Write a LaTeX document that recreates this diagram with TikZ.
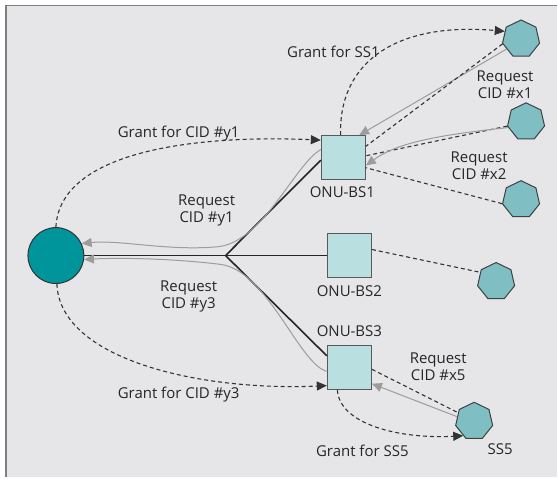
\documentclass[tikz,border=0pt]{standalone}
\usepackage{fontspec}
\setmainfont{Open Sans}
\usepackage{tikz}
\usetikzlibrary{shapes.geometric, arrows.meta}

\definecolor{panel}{HTML}{E6E6E8}
\definecolor{oltcol}{HTML}{00959B}
\definecolor{sscol}{HTML}{7FBFC4}
\definecolor{bscol}{HTML}{B9DFE0}
\definecolor{reqcol}{HTML}{9C9C9C}

\tikzstyle{olt} = [circle, draw=black!80, fill=oltcol, minimum size=28pt, inner sep=0pt, line width=0.5pt]
\tikzstyle{onu} = [rectangle, draw=black!65, fill=bscol, minimum size=22pt, inner sep=0pt, line width=0.6pt]
\tikzstyle{ss} = [regular polygon, regular polygon sides=7, draw=black!75, fill=sscol, minimum size=19pt, inner sep=0pt, line width=0.5pt]
\tikzstyle{fiber} = [line width=0.8pt, black!85]
\tikzstyle{grant} = [line width=0.55pt, black!80, dash pattern=on 2pt off 1.5pt]
\tikzstyle{grantarrow} = [grant, -{Triangle[length=5pt,width=4.5pt]}]
\tikzstyle{request} = [line width=0.5pt, reqcol, -{Triangle[length=5pt,width=4.5pt]}]
\tikzstyle{lbl} = [font=\fontsize{7.5}{8.5}\selectfont, align=center, text=black!85]

\begin{document}
\begin{tikzpicture}[x=0.5pt, y=-0.5pt]

  % Draw the grey panel with its frame
  \fill[white] (0,0) rectangle (558,478);
  \fill[panel] (6,5) rectangle (558,478);
  \draw[black!50, line width=1pt] (6.5,478) -- (6.5,5.5) -- (558,5.5);

  % Place the OLT, the ONU-BS boxes and the subscriber stations
  \node[olt] (olt) at (56,256) {};
  \node[onu] (bs1) at (344,158) {};
  \node[onu] (bs2) at (350,256) {};
  \node[onu] (bs3) at (350,368) {};
  \node[ss] (ss1) at (522,39) {};
  \node[ss] (ss2) at (527,122) {};
  \node[ss] (ss3) at (522,200) {};
  \node[ss] (ss4) at (497,282) {};
  \node[ss] (ss5) at (475,422) {};
  \coordinate (split) at (226,256);

  % Draw the fiber tree
  \draw[fiber] (olt.east) -- (split);
  \draw[fiber] (split) -- (bs1.-174);
  \draw[fiber] (split) -- (bs2.west);
  \draw[fiber] (split) -- (bs3.153);

  % Grants from the OLT
  \draw[grantarrow] (olt.90) .. controls (60,150) and (200,135) .. (bs1.142);
  \draw[grantarrow] (olt.-88) .. controls (60,360) and (200,392) .. (bs3.-141);

  % Requests up to the OLT
  \draw[request] (bs1.160) .. controls (295,165) and (265,240) .. (220,247)
    .. controls (170,252) and (120,240) .. (olt.25);
  \draw[request] (bs3.190) .. controls (300,365) and (268,272) .. (222,265)
    .. controls (175,259) and (120,258) .. (olt.-8);

  % Grants and requests between ONU-BS1 and its stations
  \draw[grantarrow] (bs1.97) .. controls (339,60) and (400,22) .. (ss1.155);
  \draw[request] (ss1.215) -- (bs1.55);
  \draw[grant] (ss1.195) -- (bs1.27);
  \draw[grant] (ss2.193) -- (bs1.5);
  \draw[request] (ss2.198) .. controls (430,136) and (395,145) .. (bs1.-19);
  \draw[grant] (ss3.192) -- (bs1.-24);

  % ONU-BS2 and its station
  \draw[grant] (bs2.15) -- (ss4.150);

  % ONU-BS3 and SS5
  \draw[grant] (bs3.-5) -- (ss5.152);
  \draw[request] (ss5.165) -- (bs3.-36);
  \draw[grantarrow] (bs3.-118) .. controls (340,425) and (400,440) .. (ss5.233);

  % Labels
  \node[lbl] (bs1lbl) at (343,192) {ONU-BS1};
  \node[lbl] (bs2lbl) at (350,292) {ONU-BS2};
  \node[lbl] (bs3lbl) at (350,332) {ONU-BS3};
  \node[lbl] (gss1) at (334,52) {Grant for SS1};
  \node[lbl] (rx1) at (506,85) {Request\\CID \#x1};
  \node[lbl] (rx2) at (480,166) {Request\\CID \#x2};
  \node[lbl] (gy1) at (179,134) {Grant for CID \#y1};
  \node[lbl] (ry1) at (207,211) {Request\\CID \#y1};
  \node[lbl] (ry3) at (189,297) {Request\\CID \#y3};
  \node[lbl] (gy3) at (179,395) {Grant for CID \#y3};
  \node[lbl] (rx5) at (439,367) {Request\\CID \#x5};
  \node[lbl] (gss5) at (363,452) {Grant for SS5};
  \node[lbl] (ss5lbl) at (501,450) {SS5};

\end{tikzpicture}
\end{document}
